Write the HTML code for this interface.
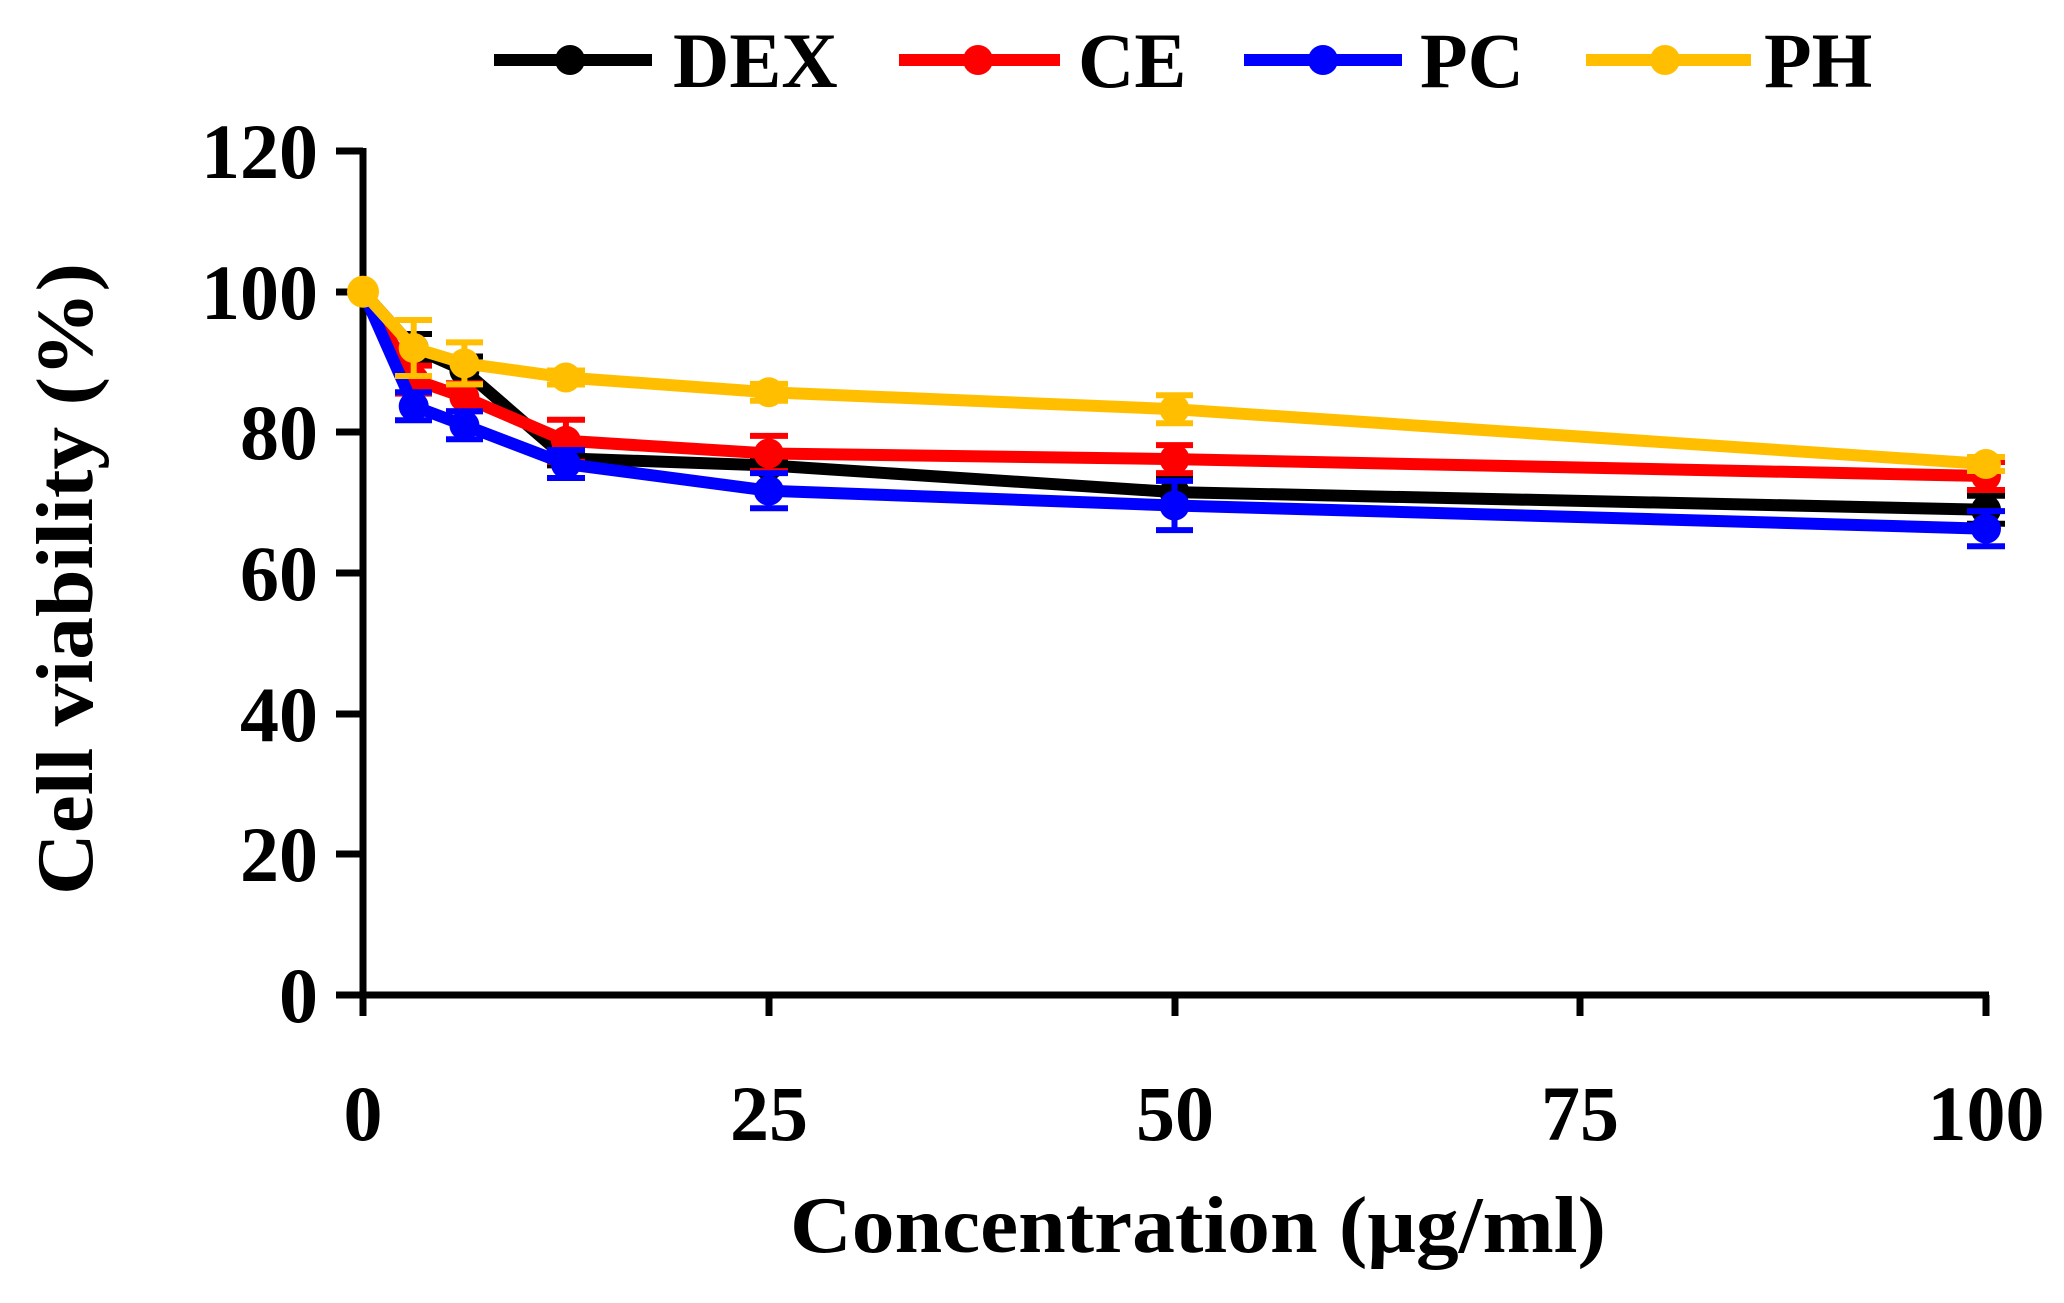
<!DOCTYPE html>
<html><head><meta charset="utf-8"><style>
html,body{margin:0;padding:0;background:#fff}
svg text{font-family:"Liberation Serif",serif;font-weight:bold;fill:#000}
</style></head><body>
<svg width="2064" height="1298" viewBox="0 0 2064 1298" xmlns="http://www.w3.org/2000/svg">
<rect width="2064" height="1298" fill="#fff"/>
<g stroke="#000" stroke-width="7" fill="none">
<line x1="363" y1="148" x2="363" y2="998"/>
<line x1="360" y1="995" x2="1989" y2="995"/>
<path d="M336 151H363M336 292H363M336 432H363M336 573H363M336 714H363M336 854H363M336 995H363M363 995V1016M769 995V1016M1175 995V1016M1580 995V1016M1986 995V1016"/>
</g>
<g font-size="78" text-anchor="end">
<text x="318" y="178">120</text>
<text x="318" y="319">100</text>
<text x="318" y="459">80</text>
<text x="318" y="600">60</text>
<text x="318" y="741">40</text>
<text x="318" y="881">20</text>
<text x="318" y="1022">0</text>
</g>
<g font-size="78" text-anchor="middle">
<text x="363" y="1140">0</text>
<text x="769" y="1140">25</text>
<text x="1175" y="1140">50</text>
<text x="1580" y="1140">75</text>
<text x="1986" y="1140">100</text>
</g>
<text x="1198" y="1252" font-size="80" text-anchor="middle" textLength="816" lengthAdjust="spacingAndGlyphs">Concentration (μg/ml)</text>
<text transform="translate(92,579) rotate(-90)" font-size="80" text-anchor="middle" textLength="632" lengthAdjust="spacingAndGlyphs">Cell viability (%)</text>

<!-- DEX -->
<g stroke="#000" fill="#000">
<polyline points="363,291.7 413.7,348 464.4,370.5 565.9,458.4 768.8,465.4 1174.5,492.1 1986,509.7" fill="none" stroke-width="12" stroke-linejoin="round"/>
<path stroke-width="6" fill="none" d="M413.7 334V362M395 334H432M395 362H432M464.4 356.5V384.5M446 356.5H483M446 384.5H483M565.9 451.4V465.4M547 451.4H585M547 465.4H585M768.8 458.4V472.4M750 458.4H788M750 472.4H788M1174.5 478V506M1156 478H1193M1156 506H1193M1986 495.7V523.7M1967 495.7H2005M1967 523.7H2005"/>
<g stroke="none"><circle cx="363" cy="291.7" r="15"/><circle cx="413.7" cy="348" r="15"/><circle cx="464.4" cy="370.5" r="15"/><circle cx="565.9" cy="458.4" r="15"/><circle cx="768.8" cy="465.4" r="15"/><circle cx="1174.5" cy="492.1" r="15"/><circle cx="1986" cy="509.7" r="15"/></g>
</g>
<!-- CE -->
<g stroke="#ff0000" fill="#ff0000">
<polyline points="363,291.7 413.7,379.6 464.4,397.2 565.9,440.8 768.8,453.5 1174.5,459.1 1986,476" fill="none" stroke-width="12" stroke-linejoin="round"/>
<path stroke-width="6" fill="none" d="M413.7 365.6V393.6M395 365.6H432M395 393.6H432M464.4 383.2V411.2M446 383.2H483M446 411.2H483M565.9 419.8V461.8M547 419.8H585M547 461.8H585M768.8 435.9V471.1M750 435.9H788M750 471.1H788M1174.5 445.1V473.1M1156 445.1H1193M1156 473.1H1193M1986 462V490M1967 462H2005M1967 490H2005"/>
<g stroke="none"><circle cx="413.7" cy="379.6" r="15"/><circle cx="464.4" cy="397.2" r="15"/><circle cx="565.9" cy="440.8" r="15"/><circle cx="768.8" cy="453.5" r="15"/><circle cx="1174.5" cy="459.1" r="15"/><circle cx="1986" cy="476" r="15"/></g>
</g>
<!-- PC -->
<g stroke="#0000ff" fill="#0000ff">
<polyline points="363,291.7 413.7,406.3 464.4,425.3 565.9,464 768.8,490.7 1174.5,505.5 1986,528.7" fill="none" stroke-width="12" stroke-linejoin="round"/>
<path stroke-width="6" fill="none" d="M413.7 392.3V420.3M395 392.3H432M395 420.3H432M464.4 411.3V439.3M446 411.3H483M446 439.3H483M565.9 450V478M547 450H585M547 478H585M768.8 473.1V508.3M750 473.1H788M750 508.3H788M1174.5 480.9V530.1M1156 480.9H1193M1156 530.1H1193M1986 511.1V546.3M1967 511.1H2005M1967 546.3H2005"/>
<g stroke="none"><circle cx="413.7" cy="406.3" r="15"/><circle cx="464.4" cy="425.3" r="15"/><circle cx="565.9" cy="464" r="15"/><circle cx="768.8" cy="490.7" r="15"/><circle cx="1174.5" cy="505.5" r="15"/><circle cx="1986" cy="528.7" r="15"/></g>
</g>
<!-- PH -->
<g stroke="#ffbf00" fill="#ffbf00">
<polyline points="363,291.7 413.7,348 464.4,363.4 565.9,377.5 768.8,392.3 1174.5,409.2 1986,464" fill="none" stroke-width="12" stroke-linejoin="round"/>
<path stroke-width="6" fill="none" d="M413.7 320V376M395 320H432M395 376H432M464.4 342.4V384.4M446 342.4H483M446 384.4H483M565.9 370.5V384.5M547 370.5H585M547 384.5H585M768.8 383.9V400.7M750 383.9H788M750 400.7H788M1174.5 395.2V423.2M1156 395.2H1193M1156 423.2H1193M1986 457V471M1967 457H2005M1967 471H2005"/>
<g stroke="none"><circle cx="363" cy="291.7" r="16"/><circle cx="413.7" cy="348" r="15"/><circle cx="464.4" cy="363.4" r="15"/><circle cx="565.9" cy="377.5" r="15"/><circle cx="768.8" cy="392.3" r="15"/><circle cx="1174.5" cy="409.2" r="15"/><circle cx="1986" cy="464" r="15"/></g>
</g>

<!-- legend -->
<line x1="494" y1="60" x2="652" y2="60" stroke="#000" stroke-width="12"/><circle cx="570" cy="60" r="15" fill="#000"/>
<line x1="899" y1="60" x2="1060" y2="60" stroke="#ff0000" stroke-width="12"/><circle cx="978" cy="60" r="15" fill="#ff0000"/>
<line x1="1244" y1="60" x2="1402" y2="60" stroke="#0000ff" stroke-width="12"/><circle cx="1323" cy="60" r="15" fill="#0000ff"/>
<line x1="1586" y1="60" x2="1751" y2="60" stroke="#ffbf00" stroke-width="12"/><circle cx="1665" cy="60" r="15" fill="#ffbf00"/>
<g font-size="78">
<text x="673" y="87">DEX</text>
<text x="1078" y="87">CE</text>
<text x="1420" y="87">PC</text>
<text x="1764" y="87">PH</text>
</g>
</svg>
</body></html>
